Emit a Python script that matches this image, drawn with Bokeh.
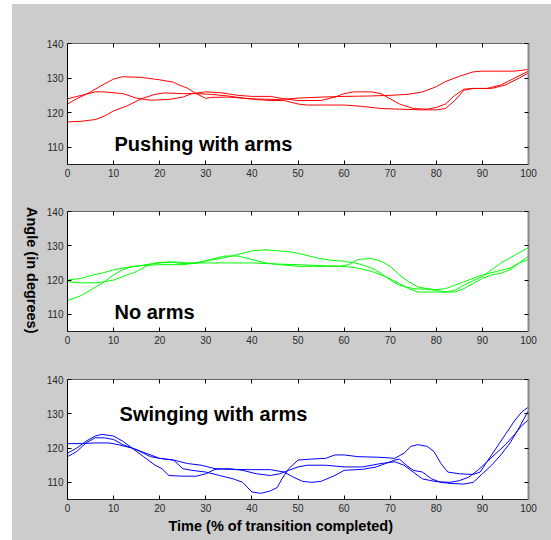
import math
from bokeh.plotting import figure
from bokeh.layouts import column, row
from bokeh.models import Range1d, FixedTicker, LinearAxis, Div, Title
from bokeh.core.properties import value
from bokeh.embed import file_html
from bokeh.resources import INLINE

# ---------------- data ----------------
x_ticks = [0, 10, 20, 30, 40, 50, 60, 70, 80, 90, 100]
y_ticks = [110, 120, 130, 140]
panel_titles = ["Pushing with arms", "No arms", "Swinging with arms"]
x_label = "Time (% of transition completed)"
y_label = "Angle (in degrees)"

# Pushing with arms (red)
push_a_x = [0, 2, 5, 8, 10, 12, 16, 20, 23, 24, 26, 27.5, 30, 31, 35, 40, 45, 48, 50, 55, 60, 65, 70, 74, 77, 80, 82, 85, 88, 90, 95, 97, 100]
push_a_y = [122.5, 124, 126, 128.3, 129.7, 130.4, 130.2, 129.5, 128.8, 128.1, 127.1, 125.8, 124.1, 124.4, 124.5, 124, 123.8, 124, 124.2, 124.5, 124.7, 124.8, 125, 125.3, 126, 127.5, 129, 130.5, 131.8, 132, 132, 132, 132.5]
push_b_x = [0, 3, 6, 8, 12, 15, 18, 22, 25, 27, 30, 33, 37, 40, 44, 47, 50, 55, 58, 60, 62, 66, 68, 70, 72, 75, 78, 80, 82, 84, 86, 88, 91, 94, 97, 100]
push_b_y = [124, 125, 126, 126, 125.5, 124.2, 123.6, 123.8, 124.5, 125.5, 126, 125.8, 125, 124.7, 124.7, 124, 123.5, 123.5, 124.5, 125.5, 126, 126, 125.5, 124, 122.5, 121.2, 121, 121.5, 122.5, 125, 126.8, 127, 127, 128, 130, 132]
push_c_x = [0, 3, 6, 8, 10, 13, 16, 19, 21, 25, 28, 31, 35, 38, 41, 44, 47, 50, 52, 60, 64, 68, 72, 77, 80, 82, 84, 86, 88, 92, 95, 98, 100]
push_c_y = [117.3, 117.5, 118, 119, 120.5, 122, 124, 125.3, 125.7, 125.5, 125.5, 125.3, 124.8, 124.2, 123.8, 123.5, 123.5, 122.5, 122.2, 122.2, 121.8, 121.2, 121, 120.8, 120.8, 121.2, 123.5, 126.5, 127, 127, 128, 130, 131.5]

# No arms (green)
noarm_a_x = [0, 3, 5.5, 8, 10, 12, 14, 17, 20, 25, 28, 31, 34, 37, 40, 43, 46, 50, 55, 59, 61, 63, 66, 68, 70, 72, 74, 76, 78, 80, 82, 84, 86, 88, 90, 93, 96, 98, 100]
noarm_a_y = [114, 115.5, 117.5, 119.5, 121.5, 123, 124, 124.3, 124.5, 124.5, 125, 126, 127, 127, 126, 125, 124.5, 124, 124, 124, 124.5, 126, 126.3, 125.5, 124, 121.5, 119.5, 118, 117.5, 117.2, 117.5, 118.5, 119.5, 120.5, 121.5, 122.5, 123.5, 125, 126]
noarm_b_x = [0, 3, 5, 8, 10, 12, 15, 17, 20, 23, 26, 30, 35, 40, 45, 50, 55, 60, 63, 66, 69, 72, 74, 76, 79, 81, 84, 86, 88, 90, 92, 94, 96, 98, 100]
noarm_b_y = [120, 120.5, 121.3, 122.2, 123, 123.5, 124, 124.5, 125, 125.3, 125, 125, 125, 125, 124.7, 124.5, 124.2, 124, 123.5, 122.5, 121, 119, 117.5, 116.5, 116.5, 116.5, 116.5, 117.5, 119, 120.5, 121.5, 122, 123, 125, 127]
noarm_c_x = [0, 3, 6, 8, 10, 12, 15, 17, 19, 22, 25, 28, 31, 34, 37, 40, 43, 46, 48, 51, 54, 57, 60, 63, 66, 68, 70, 72, 75, 78, 80, 82, 84, 86, 88, 90, 92, 94, 96, 98, 100]
noarm_c_y = [119.5, 119.2, 119.2, 119.5, 120, 121, 122.5, 124, 125, 125.3, 124.8, 125, 125.8, 126.5, 127.5, 128.5, 128.8, 128.5, 128.3, 127.5, 126.5, 125.8, 125.5, 124.8, 123.5, 122, 120, 118.5, 117.5, 117.3, 117, 116.5, 117, 118.5, 119.8, 121, 123, 125, 126.5, 128, 129.5]

# Swinging with arms (blue)
swing_a_x = [0, 3, 6, 9, 11, 14, 17, 20, 23, 26, 29, 32, 35, 40, 44, 47, 49, 51, 53, 55, 58, 60, 64, 67, 69, 71, 72, 73.5, 75, 77, 79, 81, 83, 86, 88, 90, 92, 94, 96, 98, 100]
swing_a_y = [121.3, 121.3, 121.5, 121.5, 121, 120, 118.5, 117, 116.5, 115.5, 115, 114, 113.8, 113.7, 113.7, 113, 111.5, 110.3, 110, 110.3, 112, 113.5, 113.8, 114.5, 115.5, 116.5, 116.8, 115, 113.5, 113, 111, 110, 109.7, 109.5, 110, 112.5, 115, 118, 121.5, 126, 131]
swing_b_x = [0, 2, 4, 6, 7.5, 10, 12, 14, 16.5, 19, 20.5, 22, 25, 28, 30, 32, 35, 38, 41, 44, 46, 48, 50, 52, 56, 60, 64, 68, 71, 73, 75, 77, 80, 83, 85, 87, 89, 91, 93, 95, 97, 98.5, 100]
swing_b_y = [118.5, 120, 122, 123.5, 124, 123.5, 122, 120, 117.5, 115, 114, 112, 111.8, 111.8, 112.5, 113.8, 114, 113.5, 112.5, 112, 112.5, 113.5, 114.5, 115, 115, 114.5, 114.5, 115.5, 116, 115, 113, 111, 110.2, 110, 110.5, 111.5, 113.5, 116, 118.5, 121, 124, 126.5, 128.3]
swing_c_x = [0, 2, 4, 6, 8, 10, 12, 15, 18, 20, 23, 25, 27, 30, 33, 36, 38, 40, 42, 44, 45.5, 46.5, 48, 50, 53, 56, 58, 60, 63, 68, 71, 73, 74.5, 76, 78, 79.5, 81, 82.5, 85, 88, 89.5, 91, 93, 95, 97, 98.5, 100]
swing_c_y = [117.5, 119, 121.5, 123, 123, 122.5, 121, 119.5, 117.5, 117, 116.5, 114, 113.5, 113, 112, 111, 110, 107.2, 106.8, 107.5, 108.5, 111, 114, 116.5, 116.8, 117, 118, 118, 117.5, 117.3, 117, 118.5, 120.5, 121, 120.5, 119, 115.5, 113, 112.5, 112.3, 113, 116, 120, 124, 128, 130.5, 132]

panels = [
    (panel_titles[0], "#ff0000", [(push_a_x, push_a_y), (push_b_x, push_b_y), (push_c_x, push_c_y)], (10.2, 111.0)),
    (panel_titles[1], "#00ff00", [(noarm_a_x, noarm_a_y), (noarm_b_x, noarm_b_y), (noarm_c_x, noarm_c_y)], (10.2, 110.6)),
    (panel_titles[2], "#0000ff", [(swing_a_x, swing_a_y), (swing_b_x, swing_b_y), (swing_c_x, swing_c_y)], (11.3, 129.8)),
]

GREY = "#cccccc"
TICK_FONT = "Liberation Sans"

# (height, border_top, border_bottom)
dims = [(183, 39, 23), (168, 24, 24), (185, 24, 41)]

figs = []
for i, (title, color, lines, tpos) in enumerate(panels):
    h, bt, bb = dims[i]
    p = figure(width=509, height=h, output_backend="svg", toolbar_location=None,
               x_range=Range1d(0, 100), y_range=Range1d(105, 140),
               min_border_left=25, min_border_right=23,
               min_border_top=bt, min_border_bottom=bb)
    p.border_fill_color = GREY
    p.background_fill_color = "white"
    p.outline_line_color = None
    p.grid.visible = False

    p.add_layout(LinearAxis(), "above")
    p.add_layout(LinearAxis(), "right")
    for ax in p.xaxis:
        ax.ticker = FixedTicker(ticks=x_ticks)
    for ax in p.yaxis:
        ax.ticker = FixedTicker(ticks=y_ticks)
    for ax in p.axis:
        ax.major_tick_in = 4
        ax.major_tick_out = 0
        ax.minor_tick_line_color = None
        ax.major_tick_line_color = "black"
        ax.major_label_text_font = TICK_FONT
        ax.major_label_text_font_size = "10px"
        ax.major_label_text_color = "#2a2a2a"
        ax.major_label_standoff = 4
    p.below[0].axis_line_color = "#222222"
    p.left[0].axis_line_color = "black"
    p.above[0].axis_line_color = "#666666"
    p.right[0].axis_line_color = "#888888"
    p.right[0].axis_line_width = 2
    for ax in (p.above[0], p.right[0]):
        ax.major_label_text_color = None
        ax.major_label_text_font_size = "1px"
        ax.major_label_standoff = 0

    for xs, ys in lines:
        p.line(xs, ys, line_color=color, line_width=1)

    p.text(x=[tpos[0]], y=[tpos[1]], text=[title], text_font=value("Liberation Sans"),
           text_font_style="bold", text_font_size="20px", text_color="black",
           text_align="left", text_baseline="alphabetic")
    figs.append(p)

# x axis label (set slightly left of centre, as in the reference)
figs[2].add_layout(Title(text=x_label, align="left", offset=101, standoff=2,
                         text_font="Liberation Sans", text_font_style="bold",
                         text_font_size="14.5px", text_color="black"), "below")

# y axis label, reading top to bottom as in the reference
ylab = Div(text=y_label, width=30, height=536, margin=0,
           styles={"writing-mode": "vertical-rl", "text-align": "center",
                   "font-family": "Liberation Sans", "font-weight": "bold",
                   "font-size": "14.5px", "color": "black",
                   "padding-bottom": "4px", "box-sizing": "border-box"})

layout = row(ylab, column(*figs, spacing=0), spacing=0, margin=(4, 0, 0, 12),
             styles={"background-color": GREY})
open("out.html", "w").write(file_html(layout, INLINE))
